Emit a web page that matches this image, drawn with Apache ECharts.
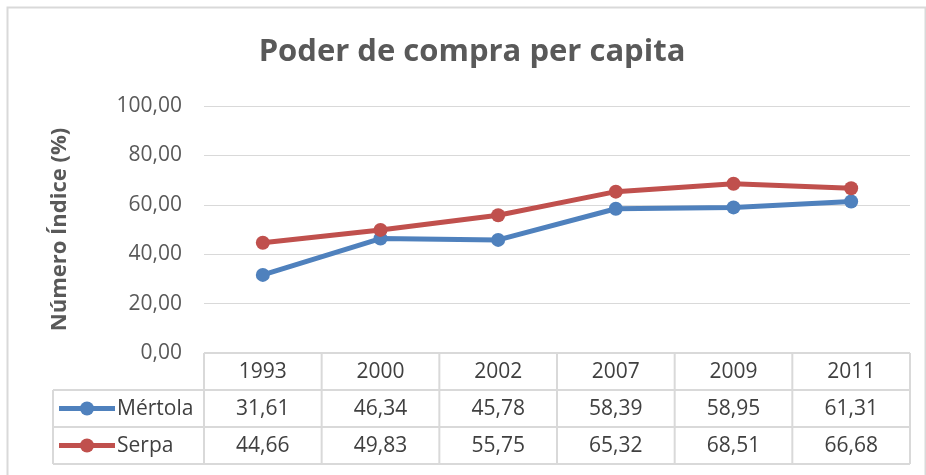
<!DOCTYPE html>
<html>
<head>
<meta charset="utf-8">
<script src="https://cdn.jsdelivr.net/npm/echarts@6/dist/echarts.min.js"></script>
<style>
  html, body { margin: 0; padding: 0; background: #fff; }
  #chart { width: 926px; height: 475px; }
</style>
</head>
<body>
<div id="chart"></div>
<script>
// dados
const anos = ['1993', '2000', '2002', '2007', '2009', '2011'];
const mertola = [31.61, 46.34, 45.78, 58.39, 58.95, 61.31];
const serpa = [44.66, 49.83, 55.75, 65.32, 68.51, 66.68];
const nomes = ['Mértola', 'Serpa'];
const cores = ['#4f81bd', '#c0504d'];

const fonte = '"Open Sans", sans-serif';
const corTexto = '#595959';
const corLinha = '#d9d9d9';

function fmt(v) {
    return v.toFixed(2).replace('.', ',');
}

let chart;

window.onload = init;

function init() {
    chart = echarts.init(document.getElementById('chart'));
    chart.setOption({
        backgroundColor: '#fff',
        animation: false,
        title: {
            text: 'Poder de compra per capita',
            left: 467, top: 32, textAlign: 'center',
            textStyle: { fontFamily: fonte, fontSize: 31, fontWeight: 'bold', color: corTexto }
        },
        grid: { left: 204, right: 16, top: 106, bottom: 122 },
        xAxis: {
            type: 'category', data: anos, boundaryGap: true,
            axisLine: { show: false }, axisTick: { show: false }, axisLabel: { show: false }
        },
        yAxis: {
            type: 'value', min: 0, max: 100, interval: 20,
            name: 'Número Índice (%)', nameLocation: 'middle', nameGap: 133,
            nameTextStyle: { fontFamily: fonte, fontSize: 22, fontWeight: 'bold', color: corTexto },
            axisLine: { show: false }, axisTick: { show: false },
            axisLabel: { formatter: fmt, fontFamily: fonte, fontSize: 21, color: corTexto, margin: 22 },
            splitLine: { lineStyle: { color: corLinha, width: 1 } }
        },
        series: [mertola, serpa].map((d, i) => ({
            name: nomes[i], type: 'line', data: d,
            symbol: 'circle', symbolSize: 14,
            lineStyle: { color: cores[i], width: 5 },
            itemStyle: { color: cores[i] }
        }))
    });
    desenharTabela();
}

function desenharTabela() {
    // tabela de dados por baixo do gráfico
    const x0 = chart.convertToPixel({ xAxisIndex: 0 }, 0);
    const x1 = chart.convertToPixel({ xAxisIndex: 0 }, 1);
    const w = x1 - x0;
    const left = x0 - w / 2;
    const right = left + w * anos.length;
    const top = chart.convertToPixel({ yAxisIndex: 0 }, 0);
    const h = 37;
    const legLeft = 53;
    const els = [];
    const linha = (ax, ay, bx, by) => els.push({
        type: 'line', shape: { x1: ax, y1: ay, x2: bx, y2: by },
        style: { stroke: corLinha, lineWidth: 2 }
    });
    const texto = (t, x, y, align) => els.push({
        type: 'text', x: x, y: y,
        style: { text: t, fill: '#404040', font: '21px ' + fonte, align: align || 'center', verticalAlign: 'middle' }
    });

    linha(left, top, right, top);
    for (let r = 1; r <= 3; r++) linha(legLeft, top + h * r, right, top + h * r);
    linha(legLeft, top + h, legLeft, top + h * 3);
    for (let c = 0; c <= anos.length; c++) linha(left + w * c, top, left + w * c, top + h * 3);

    anos.forEach((a, c) => {
        const cx = chart.convertToPixel({ xAxisIndex: 0 }, c);
        texto(a, cx, top + h / 2 + 1);
        texto(fmt(mertola[c]), cx, top + h * 1.5 + 1);
        texto(fmt(serpa[c]), cx, top + h * 2.5 + 1);
    });

    nomes.forEach((n, i) => {
        const cy = top + h * (1.5 + i);
        els.push({ type: 'line', shape: { x1: 59, y1: cy, x2: 115, y2: cy }, style: { stroke: cores[i], lineWidth: 5 } });
        els.push({ type: 'circle', shape: { cx: 87, cy: cy, r: 7 }, style: { fill: cores[i] } });
        texto(n, 117, cy + 1, 'left');
    });

    // contorno do gráfico
    els.push({ type: 'rect', shape: { x: 7.5, y: 7.5, width: 918, height: 480 }, style: { fill: null, stroke: corLinha, lineWidth: 2 } });

    chart.setOption({ graphic: { elements: els } });
}
</script>
</body>
</html>
